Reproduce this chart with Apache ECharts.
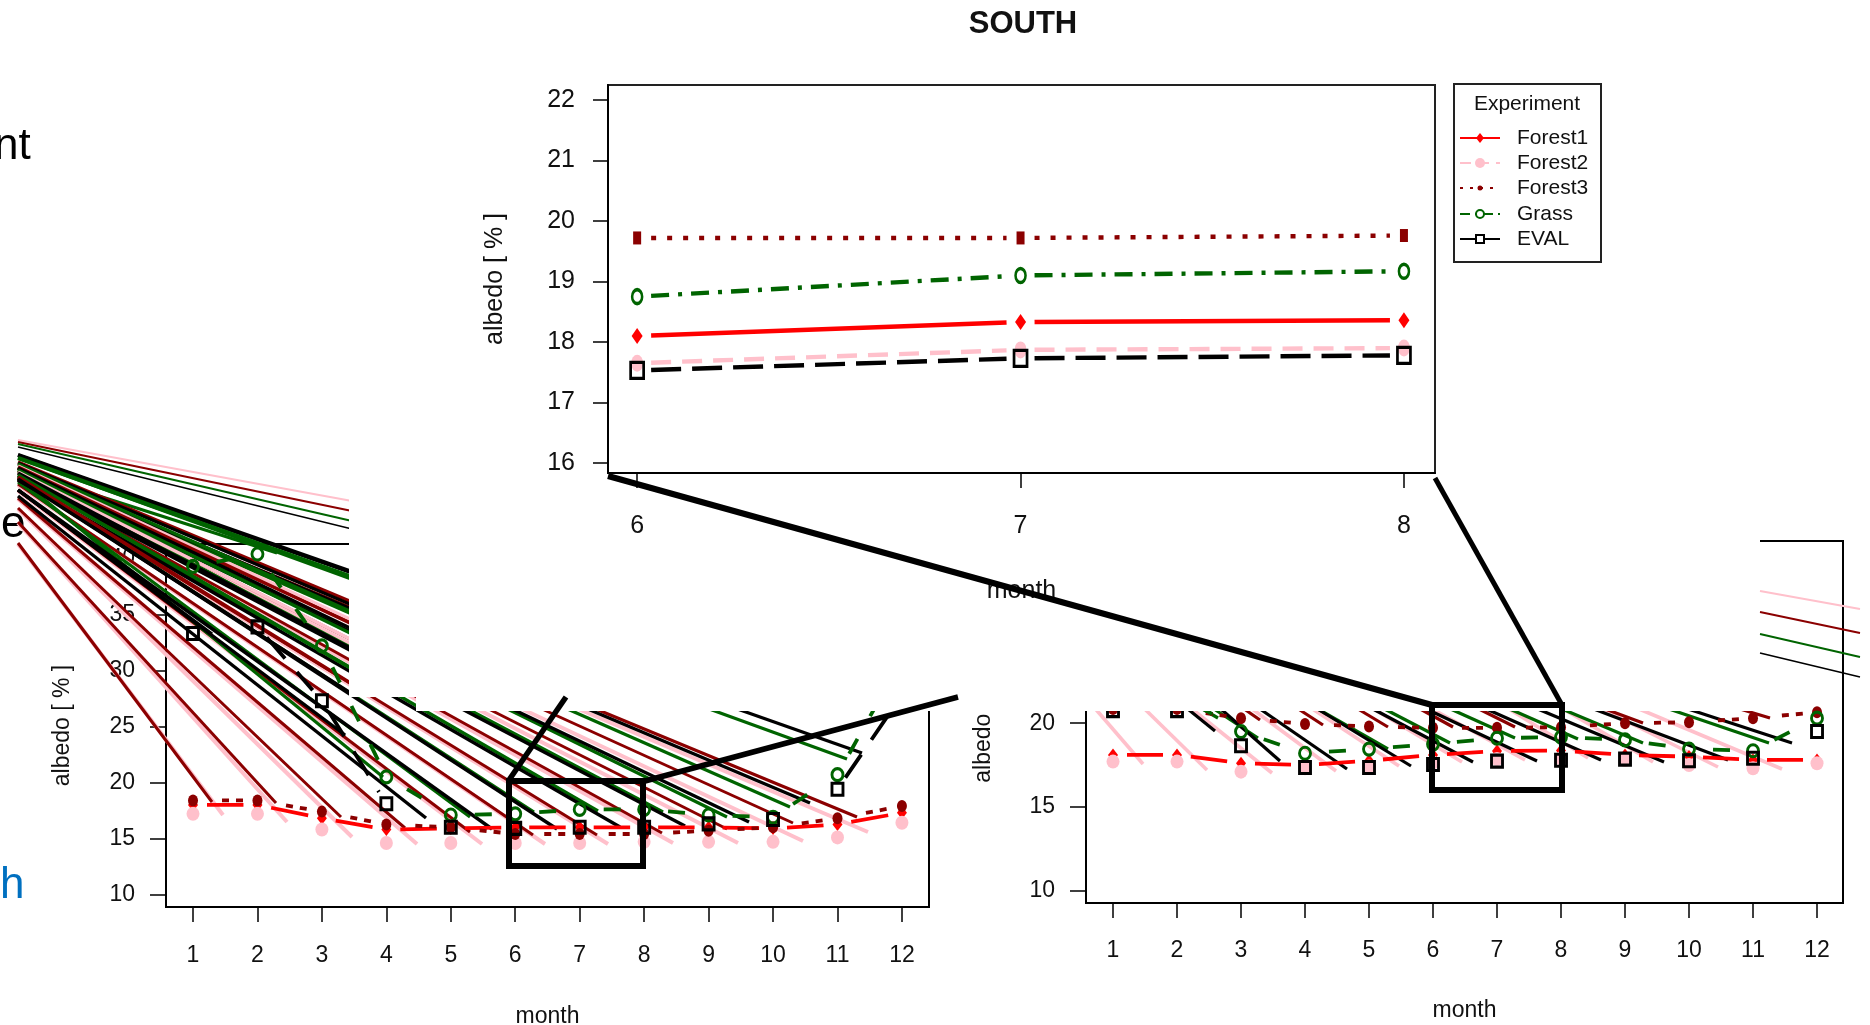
<!DOCTYPE html>
<html><head><meta charset="utf-8">
<style>html,body{margin:0;padding:0;background:#fff}#c{width:1870px;height:1025px}</style>
<script src="https://cdn.jsdelivr.net/npm/echarts@6/dist/echarts.min.js"></script>
</head><body><div id="c"></div>
<script>
// ---- data ----
const months = [1,2,3,4,5,6,7,8,9,10,11,12];
const zoomMonths = [6,7,8];
const experiments = ['Forest1','Forest2','Forest3','Grass','EVAL'];

const leftForest1 = [18.0,18.0,16.8,15.8,15.9,16.0,16.0,16.0,16.0,15.9,16.25,17.3];
const leftForest2 = [17.2,17.2,15.8,14.6,14.6,14.6,14.6,14.7,14.7,14.7,15.1,16.4];
const leftForest3 = [18.4,18.4,17.4,16.25,16.0,15.4,15.4,15.4,15.7,16.0,16.8,17.9];
const leftGrass   = [39.3,40.4,32.2,20.5,17.1,17.2,17.6,17.6,17.1,16.9,20.7,31.0];
const leftEval    = [33.3,33.9,27.3,18.1,16.0,15.9,16.0,16.0,16.3,16.7,19.4,27.8];

const rightForest1 = [18.1,18.1,17.6,17.5,17.75,18.1,18.33,18.36,18.1,18.0,17.8,17.8];
const rightForest2 = [17.7,17.7,17.1,17.3,17.4,17.65,17.85,17.9,17.8,17.5,17.3,17.6];
const rightForest3 = [20.85,20.85,20.3,19.95,19.8,19.72,19.72,19.76,20.0,20.05,20.3,20.65];
const rightGrass   = [22.0,21.8,19.5,18.2,18.45,18.75,19.1,19.17,19.0,18.45,18.35,20.3];
const rightEval    = [20.75,20.75,18.65,17.35,17.35,17.53,17.73,17.78,17.85,17.75,17.9,19.5];

const zoomForest1 = [18.1,18.33,18.36];
const zoomForest2 = [17.65,17.87,17.9];
const zoomForest3 = [19.72,19.72,19.76];
const zoomGrass   = [18.75,19.1,19.17];
const zoomEval    = [17.53,17.73,17.78];

const leftTicks = [10,15,20,25,30,35,40];
const rightTicks = [10,15,20,25,30];
const zoomTicks = [16,17,18,19,20,21,22];

// ---- styles ----
const FONT = '"Liberation Sans", Arial, sans-serif';
const RED='#ff0000', PINK='#ffc0cb', DRED='#8b0000', GRN='#006400', BLK='#000000';
const colors = [RED,PINK,DRED,GRN,BLK];
const filled = [true,true,true,false,false];
const baseSyms=['diamond','circle','circle','circle','rect'];
const zoomSyms = ['diamond','circle','rect','circle','rect'];
const sizes = [[10,13],[13,14],[10,12],[11,12],[11,12]];
const zoomSizes = [[11,16],[12,17],[8,13],[10,14],[13,16]];
const lowerLines = [
 {dash:null},
 {none:true},
 {dash:[7,7,7,15],offset:21},
 {dash:[17,26],offset:33},
 {dash:[28,18],offset:0}
];
const zoomLines = [
 {dash:null},
 {dash:[20,11],offset:0},
 {dash:[5,11],offset:0},
 {dash:[18,9,4,9],offset:0},
 {dash:[30,11],offset:0}
];
const GAP = 14;

const grids = [
 {left:166,top:544,width:763,height:363,show:true,borderColor:'#000',borderWidth:2,z:0,outerBoundsMode:'none'},
 {left:1086,top:541,width:757,height:362,show:true,borderColor:'#000',borderWidth:2,z:0,outerBoundsMode:'none'},
 {left:608,top:85,width:827,height:388,show:true,borderColor:'#222',borderWidth:2,z:4,outerBoundsMode:'none'}
];
function xAx(i,min,max,vals,az,size,nameSize,gap,margin,tl){return {
 type:'value',gridIndex:i,min,max,z:az,name:'month',nameLocation:'middle',nameGap:gap,
 nameTextStyle:{fontFamily:FONT,fontSize:nameSize,color:'#111'},
 axisLine:{show:true,onZero:false,lineStyle:{color:'#000',width:2}},
 axisTick:{show:true,length:tl,customValues:vals,lineStyle:{color:'#000',width:1.5}},
 axisLabel:{fontFamily:FONT,fontSize:size,color:'#111',margin,customValues:vals,hideOverlap:false},
 splitLine:{show:false}};}
function yAx(i,min,max,vals,az,size,nameSize,gap,name,margin,tl,pad){return {
 type:'value',gridIndex:i,min,max,z:az,name,nameLocation:'middle',nameGap:gap,nameRotate:90,
 nameTextStyle:{fontFamily:FONT,fontSize:nameSize,color:'#111'},
 axisLine:{show:true,onZero:false,lineStyle:{color:'#000',width:2}},
 axisTick:{show:true,length:tl,customValues:vals,lineStyle:{color:'#000',width:1.5}},
 axisLabel:{fontFamily:FONT,fontSize:size,color:'#111',margin,customValues:vals,padding:[pad,0,0,0]},
 splitLine:{show:false}};}

const xAxes = [
 xAx(0,0.581,12.42,months,0,23,23,98,37,15),
 xAx(1,0.578,12.406,months,0,23,23,96,36,15),
 xAx(2,5.924,8.081,zoomMonths,4,25,25,106,41,15)
];
const yAxes = [
 yAx(0,8.884,41.295,leftTicks,0,23,23,92,'albedo [ % ]',31,16,9),
 yAx(1,9.24,30.9,rightTicks,0,23,23,91,'albedo [ % ]',31,16,12),
 yAx(2,15.835,22.248,zoomTicks,4,25,25,100,'albedo [ % ]',33,15,12)
];

function segs(xs,ys,only){const out=[];for(let i=0;i<xs.length-1;i++){if(!only||only.includes(i))out.push([xs[i],ys[i],xs[i+1],ys[i+1]]);}return out;}
function gapLine(color,cfg,width,gap){return function(params,api){
 const a=api.coord([api.value(0),api.value(1)]), b=api.coord([api.value(2),api.value(3)]);
 const dx=b[0]-a[0], dy=b[1]-a[1], L=Math.hypot(dx,dy);
 if(L<=2*gap) return null;
 const ux=dx/L, uy=dy/L;
 return {type:'line',shape:{x1:a[0]+ux*gap,y1:a[1]+uy*gap,x2:b[0]-ux*gap,y2:b[1]-uy*gap},
  style:{stroke:color,lineWidth:width,lineDash:cfg.dash||null,lineDashOffset:cfg.offset||0,fill:null}};
};}

const series = [];
function addChart(gi,xs,sets,z,syms,szs,lw,lines,only){
 sets.forEach((vals,k)=>{
  if(lines[k].none || (only[k] && only[k].length===0)) return;
  series.push({type:'custom',name:experiments[k],xAxisIndex:gi,yAxisIndex:gi,z,silent:true,clip:false,
   renderItem:gapLine(colors[k],lines[k],lw,GAP),data:segs(xs,vals,only[k]),encode:{x:[0,2],y:[1,3]},animation:false});
 });
 sets.forEach((vals,k)=>{
  series.push({type:'scatter',name:experiments[k],xAxisIndex:gi,yAxisIndex:gi,z:z+0.1*(k+1),silent:true,clip:false,
   symbol:syms[k],symbolSize:szs[k],data:xs.map((m,i)=>[m,vals[i]]),animation:false,
   itemStyle:filled[k]?{color:colors[k],opacity:1}:{color:'rgba(0,0,0,0)',borderColor:colors[k],borderWidth:3,opacity:1}});
 });
}
addChart(0,months,[leftForest1,leftForest2,leftForest3,leftGrass,leftEval],2,baseSyms,sizes,3.8,lowerLines,{4:[1,2,10]});
addChart(1,months,[rightForest1,rightForest2,rightForest3,rightGrass,rightEval],2,baseSyms,sizes,3.8,lowerLines,{4:[]});
addChart(2,zoomMonths,[zoomForest1,zoomForest2,zoomForest3,zoomGrass,zoomEval],5,zoomSyms,zoomSizes,4.4,zoomLines,{});

// ---- decorative slide artefacts (streaks, cover, zoom frames) ----
const g = [];
const X0 = 18;
function streak(y0,x1,y1,c,w){g.push({type:'line',silent:true,z:1,shape:{x1:X0,y1:y0,x2:x1,y2:y1},style:{stroke:c,lineWidth:w}});}
const dredFan=[[543,212,802],[522,276,803],[508,341,817],[498,405,828],[490,470,832],[484,533,835],[479,597,835],[476,662,833],[472,727,829],[471,793,823],[470,857,817]];
const pinkEnds=[[223,815],[287,822],[352,837],[417,844],[482,844],[545,844],[608,844],[673,843],[738,843],[803,841],[868,832]];
dredFan.forEach((p,i)=>streak(p[0]+1,pinkEnds[i][0],pinkEnds[i][1],PINK,4));
dredFan.forEach(p=>streak(p[0],p[1],p[2],DRED,3));
[[478,383,777],[482,470,817],[478,534,812],[475,598,811],[472,663,812],[468,727,817],[467,790,807],[458,847,759],[468,342,645],[470,277,553]]
 .forEach(p=>streak(p[0],p[1],p[2],GRN,3.2));
[[490,212,634],[480,277,627],[490,345,735],[496,426,818],[490,492,829],[478,557,829],[480,620,827],[476,685,826],[473,749,822],[468,810,803],[455,862,753]]
 .forEach(p=>streak(p[0],p[1],p[2],BLK,3.4));
[[462,DRED],[463,BLK],[464,GRN],[466,PINK],[467,DRED],[468,BLK],[470,GRN],[472,PINK],[473,BLK],[475,GRN],[477,DRED],[479,BLK]]
 .forEach((p,i)=>{const y=[600,603,610,618,622,627,632,638,647,667,682,692][i];streak(p[0],352,y+2,p[1],3.4);});
[[440,501,PINK,2.2],[442,511,DRED,2],[444,521,GRN,1.8],[447,529,BLK,1.6],[455,572,BLK,4],[458,577,GRN,4]]
 .forEach(p=>streak(p[0],352,p[1],p[2],p[3]));
function rs(list,c,w){list.forEach(p=>{const dx=(p[1]-690)/p[2];g.push({type:'line',silent:true,z:1,shape:{x1:p[0]-dx,y1:690,x2:p[0],y2:p[1]},style:{stroke:c,lineWidth:w}});});}
rs([[1143,764,1.16],[1207,770,.98],[1272,773,.8],[1336,771,.74],[1399,766,.66],[1462,762,.6],[1525,760,.55],[1588,758,.62],[1653,762,.59],[1718,767,.5],[1782,769,.42]],PINK,3.6);
rs([[1260,720,.7],[1323,725,.65],[1388,727,.6],[1453,727,.55],[1515,727,.5],[1643,723,.37],[1770,718,.3]],DRED,3.2);
rs([[1218,718,.58],[1258,738,.66],[1388,749,.57],[1450,743,.52],[1515,738,.45],[1578,739,.44],[1643,743,.42],[1769,743,.34]],GRN,3.2);
rs([[1215,731,.81],[1280,761,.88],[1347,769,.69],[1411,766,.61],[1473,762,.53],[1537,761,.47],[1601,760,.445],[1664,762,.42],[1728,760,.38],[1792,743,.327]],BLK,3.2);
g.push({type:'polygon',silent:true,z:3,shape:{points:[[349,0],[1760,0],[1760,711],[416,711],[416,697],[349,697]]},style:{fill:'#fff',stroke:null}});
[[591,609,PINK,2.2],[612,633,DRED,2],[634,657,GRN,1.8],[653,677,BLK,1.6]].forEach(p=>
 g.push({type:'line',silent:true,z:3.5,shape:{x1:1760,y1:p[0],x2:1860,y2:p[1]},style:{stroke:p[2],lineWidth:p[3]}}));
const frame=(x,y,w,h)=>g.push({type:'rect',silent:true,z:7,shape:{x,y,width:w,height:h},style:{fill:null,stroke:'#000',lineWidth:6}});
frame(509,781,134,85); frame(1432,705,130,85);
const conn=(a,b,c,d,w)=>g.push({type:'line',silent:true,z:7,shape:{x1:a,y1:b,x2:c,y2:d},style:{stroke:'#000',lineWidth:w}});
conn(509,780,566,697,5.5); conn(645,781,958,697,5.5);
conn(1432,705,608,476,6); conn(1562,705,1435,478,5);
const frag=(t,x,y,c)=>g.push({type:'text',silent:true,z:0.5,style:{text:t,x,y,font:'44px '+FONT,fill:c,textVerticalAlign:'bottom',verticalAlign:'bottom'}});
frag('nt',-6,169,'#000'); frag('e',1,547,'#000'); frag('h',0,908,'#0070c0');
g.push({type:'rect',silent:true,z:5,shape:{x:1454,y:84,width:147,height:178},style:{fill:'#fff',stroke:'#222',lineWidth:2}});
g.push({type:'text',silent:true,z:5.1,style:{text:'Experiment',x:1527,y:104,font:'21px '+FONT,fill:'#111',align:'center',textAlign:'center',verticalAlign:'middle',textVerticalAlign:'middle'}});
const rowY=[138,163,188,214,239];
const legDash=[null,[11,7],[3,7],[10,5,3,5],null];
experiments.forEach((name,k)=>{
 const y=rowY[k];
 g.push({type:'line',silent:true,z:5.1,shape:{x1:1460,y1:y,x2:1500,y2:y},style:{stroke:colors[k],lineWidth:2,lineDash:legDash[k]}});
 if(k===0) g.push({type:'polygon',silent:true,z:5.2,shape:{points:[[1480,y-5],[1484,y],[1480,y+5],[1476,y]]},style:{fill:RED}});
 if(k===1) g.push({type:'circle',silent:true,z:5.2,shape:{cx:1480,cy:y,r:5},style:{fill:PINK}});
 if(k===2) g.push({type:'circle',silent:true,z:5.2,shape:{cx:1480,cy:y,r:2.5},style:{fill:DRED}});
 if(k===3) g.push({type:'circle',silent:true,z:5.2,shape:{cx:1480,cy:y,r:4},style:{fill:'#fff',stroke:GRN,lineWidth:2}});
 if(k===4) g.push({type:'rect',silent:true,z:5.2,shape:{x:1476,y:y-4,width:8,height:8},style:{fill:'#fff',stroke:BLK,lineWidth:2}});
 g.push({type:'text',silent:true,z:5.1,style:{text:name,x:1517,y,font:'21px '+FONT,fill:'#111',verticalAlign:'middle',textVerticalAlign:'middle'}});
});

const chart = echarts.init(document.getElementById('c'),null,{renderer:'canvas'});
chart.setOption({
 animation:false,backgroundColor:'#fff',
 title:{text:'SOUTH',left:1018,top:4,textAlign:'center',z:6,textStyle:{fontFamily:FONT,fontWeight:'bold',fontSize:31,color:'#111'}},
 grid:grids,xAxis:xAxes,yAxis:yAxes,series,graphic:{elements:g}
});
</script></body></html>
